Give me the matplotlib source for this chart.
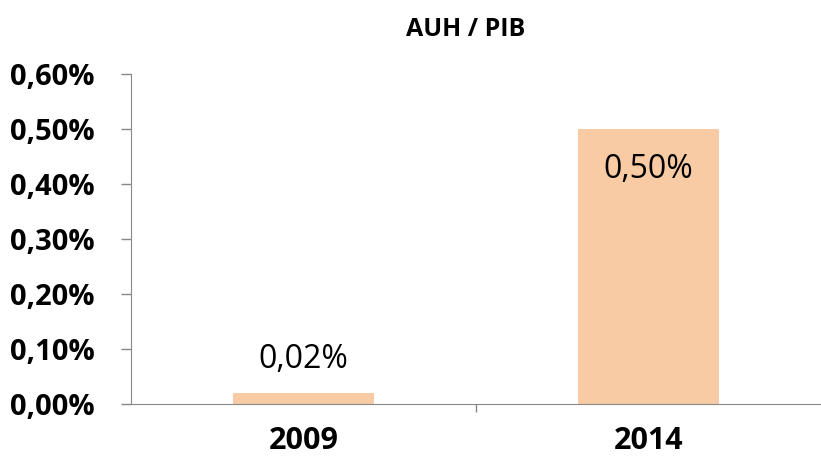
import matplotlib
matplotlib.use("Agg")
import matplotlib.pyplot as plt
from matplotlib.ticker import FuncFormatter, MultipleLocator

years = ["2009", "2014"]
values = [0.02, 0.50]
labels = ["0,02%", "0,50%"]
title = "AUH / PIB"

plt.rcParams["font.family"] = ["Open Sans", "DejaVu Sans"]

fig = plt.figure(figsize=(8.21, 4.61), dpi=100)
ax = fig.add_axes([131 / 821, 1 - 404 / 461, 690 / 821, 330 / 461])

x = range(len(years))
bars = ax.bar(x, values, width=0.41, color="#F9CBA5", zorder=2)

ax.set_xlim(-0.5, 1.5)
ax.set_ylim(0, 0.6)
ax.yaxis.set_major_locator(MultipleLocator(0.1))
ax.yaxis.set_major_formatter(FuncFormatter(lambda v, _: f"{v:.2f}%".replace(".", ",")))
ax.set_xticks([0.5])
ax.set_xticklabels([""])
ax.tick_params(axis="x", length=6, color="#888888", width=1, direction="out")
ax.tick_params(axis="y", length=7, color="#888888", width=1, direction="out", pad=19)
for lbl in ax.get_yticklabels():
    lbl.set_fontsize(21)
    lbl.set_fontweight("bold")

for i, yr in enumerate(years):
    ax.text(i, -0.04, yr, ha="center", va="top", fontsize=22, fontweight="bold")

for spine in ["top", "right"]:
    ax.spines[spine].set_visible(False)
ax.spines["left"].set_color("#888888")
ax.spines["bottom"].set_color("#888888")

# data labels: inside end when big, outside end when small
for bar, val, txt in zip(bars, values, labels):
    cx = bar.get_x() + bar.get_width() / 2
    if val > 0.1:
        ax.text(cx, val - 0.074, txt, ha="center", va="center", fontsize=23)
    else:
        ax.text(cx, val + 0.06, txt, ha="center", va="center", fontsize=23)

fig.text(466 / 821, 1 - 30 / 461, title, ha="center", va="center",
         fontsize=18, fontweight="bold")

fig.savefig("out.png", dpi=100)
